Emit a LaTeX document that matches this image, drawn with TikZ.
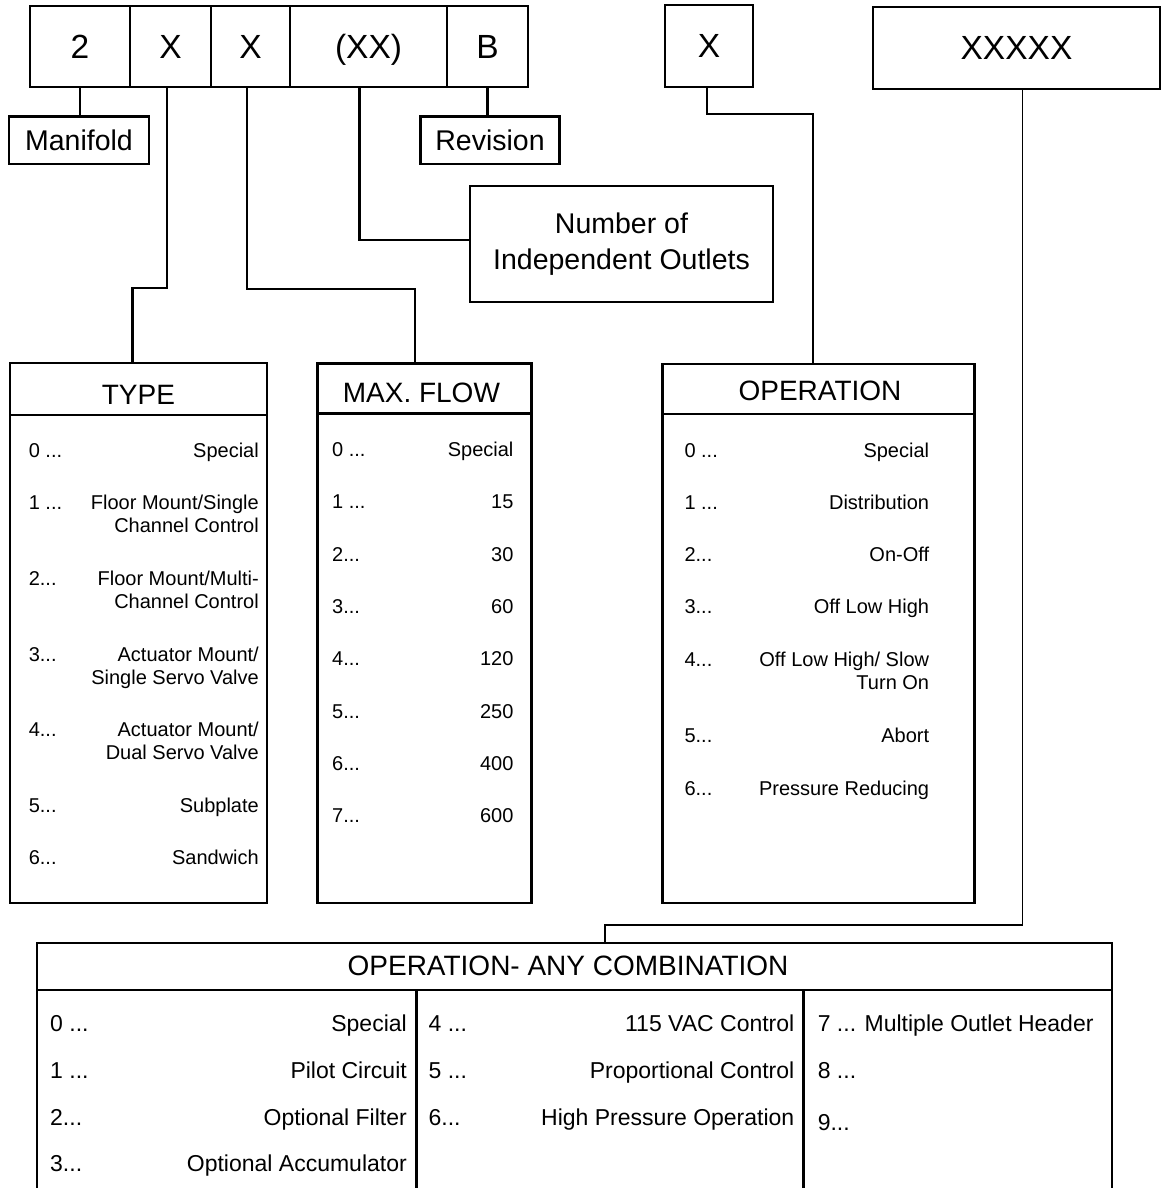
\documentclass[tikz,border=0pt]{standalone}
\usepackage{fontspec}
\setmainfont{Liberation Sans}
\usetikzlibrary{positioning}
\newcommand{\dts}{...}
\tikzset{code/.style={draw, line width=2.8pt, minimum height=81pt, inner sep=0pt, outer sep=0pt, text height=24pt, text depth=0pt, font=\fontsize{33.5}{40}\selectfont}}
\tikzset{tag/.style={draw, line width=2.6pt, inner sep=0pt, font=\fontsize{28.5}{36}\selectfont}}
\tikzset{panel/.style={draw, line width=2.8pt, outer sep=0pt}}
\tikzset{head/.style={inner sep=0pt, font=\fontsize{28}{34}\selectfont}}
\tikzset{item/.style={inner sep=0pt, font=\fontsize{20}{23}\selectfont}}
\tikzset{bigitem/.style={inner sep=0pt, font=\fontsize{23}{27}\selectfont}}
\tikzset{rule/.style={line width=2.8pt}}
\tikzset{link/.style={line width=2.2pt}}
\tikzset{thinlink/.style={line width=1.8pt}}

\begin{document}
\begin{tikzpicture}[x=1pt, y=-1pt]
        \useasboundingbox (0, 0) rectangle (1162, 1188);

        % Code boxes
        \node[code, minimum width=100pt] (d2) at (80, 46.5) {2};
        \node[code, minimum width=81pt, right=0pt of d2] (dX1) {X};
        \node[code, minimum width=79pt, right=0pt of dX1] (dX2) {X};
        \node[code, minimum width=157pt, right=0pt of dX2] (dXX) {(XX)};
        \node[code, minimum width=81pt, right=0pt of dXX] (dB) {B};
        \node[code, minimum width=88pt, minimum height=82pt] (opX) at (709, 46) {X};
        \node[code, minimum width=287pt, minimum height=82pt] (suffix) at (1016.5, 48) {XXXXX};

        % Labels
        \node[tag, minimum width=140pt, minimum height=47pt] (man) at (79, 140.3) {Manifold};
        \node[tag, minimum width=139pt, minimum height=47pt] (rev) at (490, 140.3) {Revision};
        \node[tag, minimum width=303pt, minimum height=116pt, align=center] (outlets) at (621.5, 244) {Number of\\Independent Outlets};

        % Tables
        \node[panel, minimum width=257pt, minimum height=540pt] (type) at (138.5, 633) {};
        \node[panel, minimum width=214pt, minimum height=539.5pt] (flow) at (424.2, 633.3) {};
        \node[panel, minimum width=311.6pt, minimum height=539pt] (oper) at (818.5, 633.5) {};
        \node[panel, minimum width=1075pt, minimum height=262pt, anchor=north] (combo) at (574.5, 943) {};

        \draw[rule] ([yshift=-52pt]type.north west) -- ([yshift=-52pt]type.north east);
        \draw[rule] ([yshift=-50pt]flow.north west) -- ([yshift=-50pt]flow.north east);
        \draw[rule] ([yshift=-50pt]oper.north west) -- ([yshift=-50pt]oper.north east);
        \draw[rule] ([yshift=-47pt]combo.north west) -- ([yshift=-47pt]combo.north east);
        \draw[rule] ([shift={(379.2pt,-47pt)}]combo.north west) -- ([xshift=379.2pt]combo.south west);
        \draw[rule] ([shift={(766.8pt,-47pt)}]combo.north west) -- ([xshift=766.8pt]combo.south west);

        \node[head] (typehead) at (138.4, 394.6) {TYPE};
        \node[head] (flowhead) at (421.4, 393) {MAX. FLOW};
        \node[head] (operhead) at (820, 391) {OPERATION};
        \node[head] (combohead) at (568, 966) {OPERATION- ANY COMBINATION};

        % Entries
        \foreach \y/\n/\a/\b [count=\i] in {457/0 \dts/Special/{}, 509/1 \dts/{Floor Mount/Single}/Channel Control,
            585/2\dts/{Floor Mount/Multi-}/Channel Control, 661/3\dts/{Actuator Mount/}/Single Servo Valve,
            736/4\dts/{Actuator Mount/}/Dual Servo Valve, 812/5\dts/Subplate/{}, 864/6\dts/Sandwich/{}} {
            \node[item, anchor=base west] (type-n\i) at (28.6, \y) {\n};
            \node[item, anchor=base east] (type-a\i) at (259, \y) {\a};
            \node[item, anchor=base east] (type-b\i) at (259, \y+23) {\b};
        }
        \foreach \y/\n/\a [count=\i] in {456/0 \dts/Special, 508/1 \dts/15, 561/2\dts/30, 613/3\dts/60,
            665/4\dts/120, 718/5\dts/250, 770/6\dts/400, 822/7\dts/600} {
            \node[item, anchor=base west] (flow-n\i) at (332, \y) {\n};
            \node[item, anchor=base east] (flow-a\i) at (513.6, \y) {\a};
        }
        \foreach \y/\n/\a/\b [count=\i] in {457/0 \dts/Special/{}, 509/1 \dts/Distribution/{}, 561/2\dts/On-Off/{},
            613/3\dts/Off Low High/{}, 666/4\dts/{Off Low High/ Slow}/Turn On, 742/5\dts/Abort/{},
            795/6\dts/Pressure Reducing/{}} {
            \node[item, anchor=base west] (oper-n\i) at (684.3, \y) {\n};
            \node[item, anchor=base east] (oper-a\i) at (929.3, \y) {\a};
            \node[item, anchor=base east] (oper-b\i) at (929.3, \y+23) {\b};
        }
        \foreach \y/\n/\a [count=\i] in {1031/0 \dts/Special, 1078/1 \dts/Pilot Circuit,
            1125/2\dts/Optional Filter, 1171/3\dts/Optional Accumulator} {
            \node[bigitem, anchor=base west] (comb-n\i) at (50, \y) {\n};
            \node[bigitem, anchor=base east] (comb-a\i) at (407, \y) {\a};
        }
        \foreach \y/\n/\a [count=\i] in {1031/4 \dts/115 VAC Control, 1078/5 \dts/Proportional Control,
            1125/6\dts/High Pressure Operation} {
            \node[bigitem, anchor=base west] (comb-m\i) at (428.4, \y) {\n};
            \node[bigitem, anchor=base east] (comb-b\i) at (794.5, \y) {\a};
        }
        \foreach \y/\n [count=\i] in {1031/7 \dts{} Multiple Outlet Header, 1078/8 \dts, 1130/9\dts} {
            \node[bigitem, anchor=base west] (comb-r\i) at (817.6, \y) {\n};
        }

        % Connectors
        \draw[link] (d2.south) -- (d2.south |- man.north);
        \draw[link] ([xshift=-3.5pt]dX1.south) -- ++(0, 201) -| ([xshift=-6pt]type.north);
        \draw[link] ([xshift=-3.5pt]dX2.south) -- ++(0, 202) -| ([xshift=-9pt]flow.north);
        \draw[link] ([xshift=-9pt]dXX.south) |- ([yshift=4pt]outlets.west);
        \draw[link] (dB.south) -- (dB.south |- rev.north);
        \draw[link] ([xshift=-2pt]opX.south) -- ++(0, 27) -| ([xshift=-5.5pt]oper.north);
        \draw[thinlink] ([xshift=6pt]suffix.south) -- ++(0, 836) -| ([xshift=30.5pt]combo.north);
    \end{tikzpicture}
\end{document}
